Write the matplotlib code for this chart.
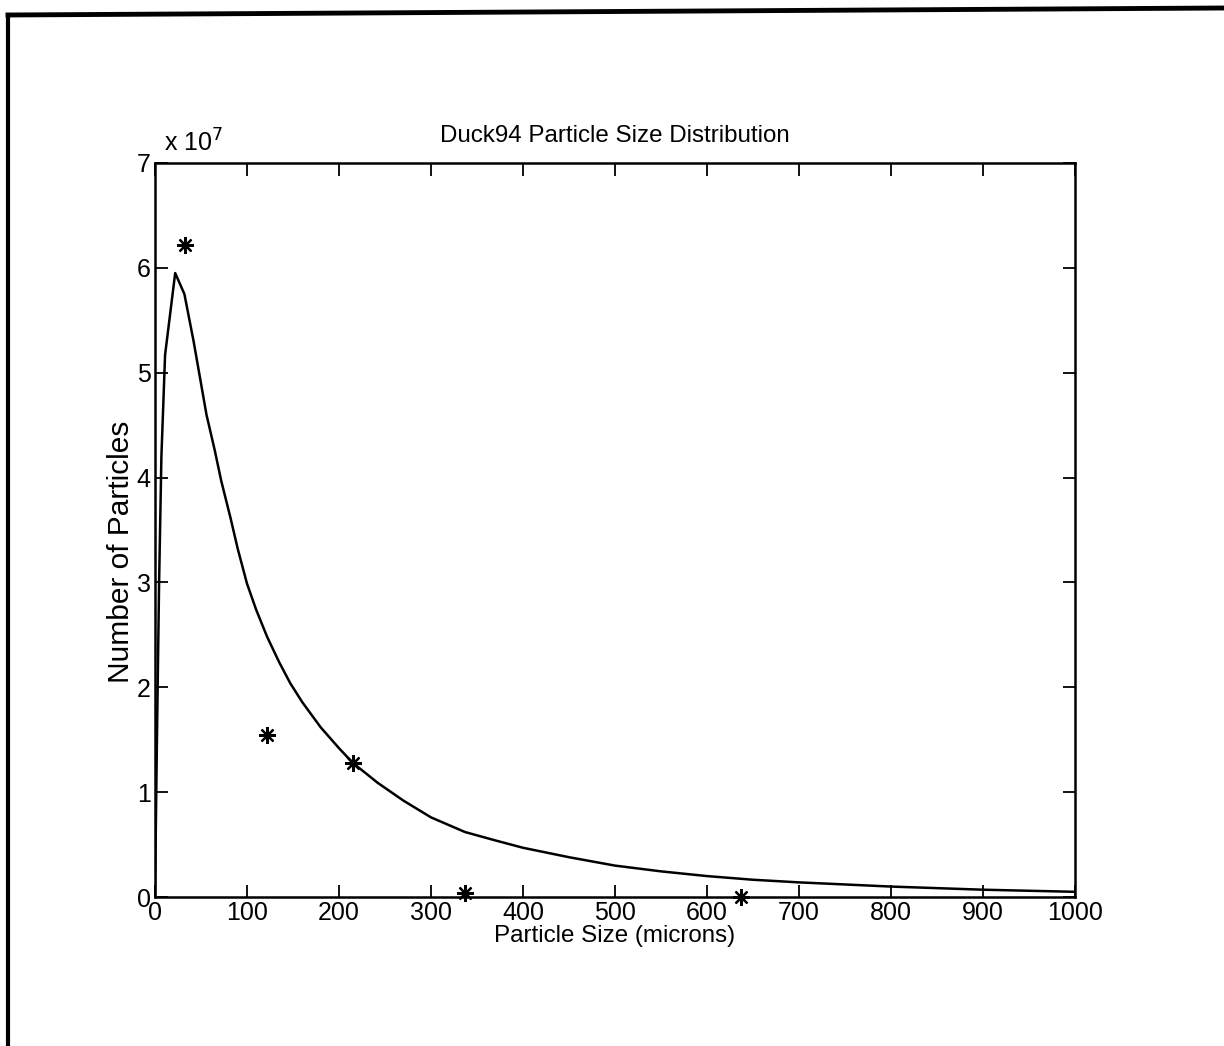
import matplotlib
matplotlib.use("Agg")
import matplotlib.pyplot as plt
from matplotlib.lines import Line2D

plt.rcParams['font.family'] = ['Liberation Sans', 'DejaVu Sans']

# Fitted size distribution (particle size in microns, count in units of 1e7)
fit_size = [0, 2, 4.5, 7, 11, 22, 32, 42, 50, 56, 65, 72, 82, 90, 100, 110,
            122, 135, 147, 160, 180, 200, 215, 242, 270, 300, 337, 370, 400,
            450, 500, 550, 600, 650, 700, 750, 800, 850, 900, 950, 1000]
fit_count = [0.0, 1.4, 3.0, 4.2, 5.17, 5.95, 5.75, 5.3, 4.9, 4.6, 4.26, 3.97,
             3.62, 3.32, 2.99, 2.74, 2.48, 2.24, 2.04, 1.86, 1.62, 1.42, 1.28,
             1.09, 0.92, 0.76, 0.62, 0.54, 0.47, 0.38, 0.30, 0.245, 0.20,
             0.165, 0.14, 0.12, 0.10, 0.085, 0.07, 0.06, 0.05]

# Measured samples
obs_size = [33, 122, 215, 337, 637]
obs_count = [6.22, 1.55, 1.28, 0.04, 0.0]

x_ticks = [0, 100, 200, 300, 400, 500, 600, 700, 800, 900, 1000]
y_ticks = [0, 1, 2, 3, 4, 5, 6, 7]

fig = plt.figure(figsize=(12.24, 10.46), dpi=100)
ax = fig.add_axes([0.1266, 0.1424, 0.7516, 0.7018])

ax.plot(fit_size, fit_count, color='black', linewidth=1.8)
ax.plot(obs_size, obs_count, linestyle='none', marker=(8, 2, 0),
        markersize=12, markeredgewidth=1.6, color='black', clip_on=False)

ax.set_xlim(0, 1000)
ax.set_ylim(0, 7)
ax.set_xticks(x_ticks)
ax.set_yticks(y_ticks)
ax.tick_params(direction='in', length=9, width=1.3, top=True, right=True,
               labelsize=18, pad=3)
for s in ax.spines.values():
    s.set_linewidth(1.8)

ax.set_title('Duck94 Particle Size Distribution', fontsize=17.4, pad=15)
ax.set_xlabel('Particle Size (microns)', fontsize=17.4, labelpad=0)
ax.set_ylabel('Number of Particles', fontsize=21.5)
ax.yaxis.set_label_coords(-0.022, 0.47)
ax.text(0.01, 1.008, r'x 10$^{7}$', transform=ax.transAxes, fontsize=18,
        ha='left', va='bottom', math_fontfamily='dejavusans')

# Page frame edges
fig.add_artist(Line2D([8 / 1224, 1224 / 1224], [1 - 15 / 1046, 1 - 8 / 1046],
                      transform=fig.transFigure, color='black', linewidth=3.5))
fig.add_artist(Line2D([8 / 1224, 8 / 1224], [1 - 15 / 1046, 0.0],
                      transform=fig.transFigure, color='black', linewidth=3.0))

fig.savefig('out.png', dpi=100)
